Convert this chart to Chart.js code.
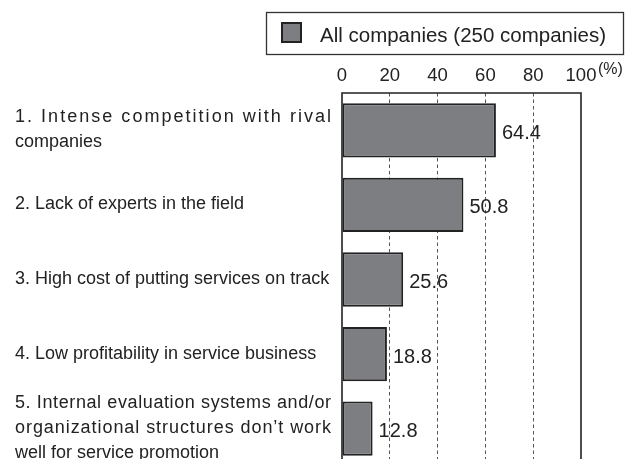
<!DOCTYPE html>
<html>
<head>
<meta charset="utf-8">
<script src="https://cdn.jsdelivr.net/npm/chart.js@4/dist/chart.umd.min.js"></script>
<style>
  html, body { margin: 0; padding: 0; background: #fff; overflow: hidden; }
  #wrap { width: 638px; height: 459px; overflow: hidden; }
</style>
</head>
<body>
<div id="wrap"><canvas id="c" width="638" height="472"></canvas></div>
<script>
// Survey question: obstacles to promoting service business (multiple answers, %)
const categories = [
  ["1. Intense competition with rival", "companies"],
  ["2. Lack of experts in the field"],
  ["3. High cost of putting services on track"],
  ["4. Low profitability in service business"],
  ["5. Internal evaluation systems and/or", "organizational structures don\u2019t work", "well for service promotion"]
];
const seriesName = "All companies (250 companies)";
const allCompanies = [64.4, 50.8, 25.6, 18.8, 12.8];
const tickValues = [0, 20, 40, 60, 80, 100];
const unitLabel = "(%)";

const FONT = '"Liberation Sans", Arial, Helvetica, sans-serif';
const INK = '#222';
const BAR_FILL = '#7d7e82';

// Left-hand category labels; every line of a wrapped label except the last is
// stretched to the full label column, the way justified type is set.
const categoryLabels = {
  id: 'categoryLabels',
  afterDraw(chart) {
    const { ctx } = chart;
    const y = chart.scales.y;
    const left = 15, right = 331, lineH = 25;
    ctx.save();
    ctx.font = '18px ' + FONT;
    ctx.fillStyle = INK;
    ctx.textAlign = 'left';
    ctx.textBaseline = 'middle';
    categories.forEach((lines, i) => {
      const cy = y.getPixelForValue(i) - 0.5;
      const y0 = cy - (lines.length - 1) * lineH / 2;
      lines.forEach((line, j) => {
        const ly = y0 + j * lineH;
        const isLast = j === lines.length - 1;
        if (!isLast && line.length > 1) {
          const natural = ctx.measureText(line).width;
          const extra = (right - left) - natural;
          if ('letterSpacing' in ctx) {
            ctx.letterSpacing = (extra / (line.length - 1)) + 'px';
            ctx.fillText(line, left, ly);
            ctx.letterSpacing = '0px';
          } else {
            let x = left;
            const step = extra / (line.length - 1);
            for (const ch of line) {
              ctx.fillText(ch, x, ly);
              x += ctx.measureText(ch).width + step;
            }
          }
        } else {
          ctx.fillText(line, left, ly);
        }
      });
    });
    ctx.restore();
  }
};

// Plot frame (left, top and right edges) and the unit next to the last tick
const frame = {
  id: 'frame',
  afterDatasetsDraw(chart) {
    const { ctx, chartArea: a } = chart;
    ctx.save();
    ctx.strokeStyle = INK;
    ctx.lineWidth = 1.6;
    ctx.beginPath();
    ctx.moveTo(a.left, a.bottom + 5);
    ctx.lineTo(a.left, a.top);
    ctx.lineTo(a.right, a.top);
    ctx.lineTo(a.right, a.bottom + 5);
    ctx.stroke();
    ctx.restore();
  },
  afterDraw(chart) {
    const { ctx } = chart;
    const x = chart.scales.x;
    const px = x.getPixelForValue(tickValues[tickValues.length - 1]);
    ctx.save();
    ctx.font = '16px ' + FONT;
    ctx.fillStyle = INK;
    ctx.textAlign = 'left';
    ctx.textBaseline = 'middle';
    ctx.fillText(unitLabel, px + 17, 70);
    ctx.restore();
  }
};

// Value at the end of each bar
const valueLabels = {
  id: 'valueLabels',
  afterDatasetsDraw(chart) {
    const { ctx } = chart;
    const meta = chart.getDatasetMeta(0);
    ctx.save();
    ctx.font = '20px ' + FONT;
    ctx.fillStyle = INK;
    ctx.textAlign = 'left';
    ctx.textBaseline = 'middle';
    meta.data.forEach((bar, i) => {
      ctx.fillText(allCompanies[i].toFixed(1), bar.x + 6, bar.y + 3);
    });
    ctx.restore();
  }
};

// Boxed legend above the plot
const boxedLegend = {
  id: 'boxedLegend',
  afterDraw(chart) {
    const { ctx } = chart;
    const ds = chart.data.datasets[0];
    ctx.save();
    ctx.strokeStyle = '#333';
    ctx.lineWidth = 1.3;
    ctx.strokeRect(266.5, 12.5, 357, 42);
    ctx.fillStyle = ds.backgroundColor;
    ctx.fillRect(281, 22, 21, 21);
    ctx.strokeStyle = ds.borderColor;
    ctx.lineWidth = 2;
    ctx.strokeRect(282, 23, 19, 19);
    ctx.font = '20.5px ' + FONT;
    ctx.fillStyle = INK;
    ctx.textAlign = 'left';
    ctx.textBaseline = 'alphabetic';
    ctx.fillText(ds.label, 320, 41.5);
    ctx.restore();
  }
};

new Chart(document.getElementById('c'), {
  type: 'bar',
  data: {
    labels: categories,
    datasets: [{
      label: seriesName,
      data: allCompanies,
      backgroundColor: BAR_FILL,
      borderColor: INK,
      borderWidth: 2,
      borderSkipped: false,
      categoryPercentage: 1,
      barPercentage: 0.728
    }]
  },
  options: {
    indexAxis: 'y',
    responsive: false,
    animation: false,
    devicePixelRatio: 1,
    layout: { padding: { left: 342, right: 57, top: 58.8, bottom: 6 } },
    plugins: { legend: { display: false }, tooltip: { enabled: false } },
    scales: {
      x: {
        position: 'top',
        min: 0,
        max: 100,
        afterBuildTicks(scale) { scale.ticks = tickValues.map(v => ({ value: v })); },
        ticks: {
          font: { family: FONT, size: 18.5 },
          color: INK,
          padding: 6,
          maxRotation: 0
        },
        grid: {
          drawTicks: false,
          lineWidth: 1,
          color: c => (c.tick && (c.tick.value === 0 || c.tick.value === 100)) ? 'rgba(0,0,0,0)' : '#555'
        },
        border: { display: false, dash: [3.5, 3] }
      },
      y: {
        display: false
      }
    }
  },
  plugins: [frame, valueLabels, categoryLabels, boxedLegend]
});
</script>
</body>
</html>
